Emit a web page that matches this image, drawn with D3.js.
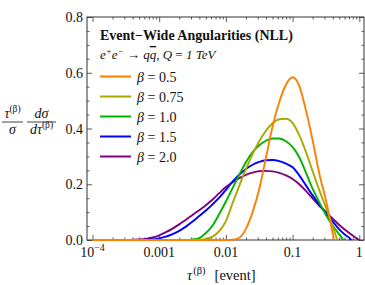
<!DOCTYPE html>
<html>
<head>
<meta charset="utf-8">
<script src="https://cdn.jsdelivr.net/npm/d3@7"></script>
<style>
  body { margin: 0; background: #fff; }
  text { font-family: "Liberation Serif", "DejaVu Serif", serif; fill: #111; }
</style>
</head>
<body>
<div id="vis"></div>
<script>
const W = 365, H = 285;
const frame = { left: 87, right: 364, top: 17, bottom: 240 };

const betas = ["0.5", "0.75", "1.0", "1.5", "2.0"];
const colors = ["#ff7f00", "#a8a800", "#00b400", "#0000ff", "#800080"];

// log10(tau) sample points and the distribution
const logTau05 = [-4, -2.0, -1.9, -1.8, -1.7, -1.6, -1.5, -1.4, -1.3, -1.2, -1.1, -1.0, -0.9, -0.8, -0.7, -0.6, -0.5, -0.45, -0.4, -0.38];
const vals05   = [0, 0, 0.001, 0.008, 0.04, 0.10, 0.183, 0.295, 0.408, 0.495, 0.557, 0.584, 0.553, 0.465, 0.358, 0.238, 0.142, 0.086, 0.025, 0];

const logTau075 = [-4, -2.5, -2.4, -2.3, -2.2, -2.1, -2.0, -1.9, -1.8, -1.7, -1.6, -1.5, -1.4, -1.3, -1.2, -1.1, -1.0, -0.9, -0.8, -0.7, -0.6, -0.5, -0.4, -0.34, -0.33];
const vals075   = [0, 0, 0.001, 0.004, 0.012, 0.032, 0.068, 0.132, 0.194, 0.254, 0.308, 0.354, 0.392, 0.419, 0.433, 0.435, 0.42, 0.376, 0.316, 0.247, 0.179, 0.117, 0.05, 0.007, 0];

const logTau10 = [-4, -2.6, -2.5, -2.4, -2.3, -2.2, -2.1, -2.0, -1.9, -1.8, -1.7, -1.6, -1.5, -1.4, -1.3, -1.2, -1.1, -1.0, -0.9, -0.8, -0.7, -0.6, -0.5, -0.4, -0.3, -0.25, -0.24];
const vals10   = [0, 0, 0.002, 0.007, 0.025, 0.052, 0.093, 0.138, 0.186, 0.234, 0.279, 0.315, 0.34, 0.356, 0.364, 0.364, 0.354, 0.333, 0.297, 0.242, 0.184, 0.135, 0.09, 0.052, 0.02, 0.004, 0];

const logTau15 = [-4, -3.3, -3.2, -3.1, -3.0, -2.9, -2.8, -2.7, -2.6, -2.5, -2.4, -2.3, -2.2, -2.1, -2.0, -1.9, -1.8, -1.7, -1.6, -1.5, -1.4, -1.3, -1.2, -1.1, -1.0, -0.9, -0.8, -0.7, -0.6, -0.5, -0.4, -0.3, -0.2, -0.14, -0.12];
const vals15   = [0, 0, 0.001, 0.002, 0.006, 0.012, 0.021, 0.033, 0.048, 0.066, 0.086, 0.106, 0.128, 0.152, 0.18, 0.209, 0.234, 0.255, 0.27, 0.28, 0.286, 0.287, 0.283, 0.274, 0.261, 0.232, 0.196, 0.16, 0.127, 0.097, 0.067, 0.038, 0.016, 0.006, 0];

const logTau20 = [-4, -3.5, -3.4, -3.3, -3.2, -3.1, -3.0, -2.9, -2.8, -2.7, -2.6, -2.5, -2.4, -2.3, -2.2, -2.1, -2.0, -1.9, -1.8, -1.7, -1.6, -1.5, -1.4, -1.3, -1.2, -1.1, -1.0, -0.9, -0.8, -0.7, -0.6, -0.5, -0.4, -0.3, -0.2, -0.1, -0.04, 0];
const vals20   = [0, 0, 0.001, 0.002, 0.004, 0.009, 0.017, 0.028, 0.041, 0.056, 0.073, 0.09, 0.107, 0.125, 0.145, 0.168, 0.19, 0.207, 0.222, 0.234, 0.242, 0.247, 0.248, 0.246, 0.241, 0.232, 0.219, 0.2, 0.176, 0.149, 0.123, 0.1, 0.077, 0.054, 0.034, 0.016, 0.006, 0];

const series = [
  [logTau05, vals05], [logTau075, vals075], [logTau10, vals10], [logTau15, vals15], [logTau20, vals20]
];

const xMajor = [1e-4, 1e-3, 1e-2, 1e-1, 1];
const xLabels = ["10|-4", "0.001", "0.01", "0.1", "1"];
const yMajor = [0, 0.2, 0.4, 0.6, 0.8];
const yLabels = ["0.0", "0.2", "0.4", "0.6", "0.8"];

const svg = d3.select("#vis").append("svg")
    .attr("width", W)
    .attr("height", H);

const x = d3.scaleLog().domain([1e-4, 1]).range([92.5, 359.3]);
const y = d3.scaleLinear().domain([0, 0.8]).range([frame.bottom, frame.top]);

// minor ticks
const xMinor = [];
[1e-4, 1e-3, 1e-2, 1e-1].forEach(d => { for (let k = 2; k <= 9; k++) xMinor.push(d * k); });
const yMinor = d3.range(0, 0.81, 0.05).filter(v => Math.abs(v * 5 - Math.round(v * 5)) > 1e-6);

const axisG = svg.append("g").attr("class", "axes");

function tickAxis(axisFn, scale, vals, size, pos) {
  const g = axisG.append("g")
      .attr("transform", pos)
      .call(axisFn(scale).tickValues(vals).tickSize(size).tickFormat(""));
  g.select(".domain").remove();
  g.selectAll(".tick line").attr("stroke", "#333").attr("stroke-width", 0.8);
  return g;
}

// bottom / top (inward)
tickAxis(d3.axisBottom, x, xMajor, -5, `translate(0,${frame.bottom})`);
tickAxis(d3.axisBottom, x, xMinor, -2.5, `translate(0,${frame.bottom})`);
tickAxis(d3.axisTop, x, xMajor, -5, `translate(0,${frame.top})`);
tickAxis(d3.axisTop, x, xMinor, -2.5, `translate(0,${frame.top})`);
// left / right
tickAxis(d3.axisLeft, y, yMajor, -5, `translate(${frame.left},0)`);
tickAxis(d3.axisLeft, y, yMinor, -2.5, `translate(${frame.left},0)`);
tickAxis(d3.axisRight, y, yMajor, -5, `translate(${frame.right},0)`);
tickAxis(d3.axisRight, y, yMinor, -2.5, `translate(${frame.right},0)`);

// frame
svg.append("rect")
    .attr("x", frame.left)
    .attr("y", frame.top)
    .attr("width", frame.right - frame.left)
    .attr("height", frame.bottom - frame.top)
    .attr("fill", "none")
    .attr("stroke", "#333")
    .attr("stroke-width", 1);

// curves
const line = d3.line()
    .x(d => x(Math.pow(10, d[0])))
    .y(d => y(d[1]))
    .curve(d3.curveMonotoneX);

const curveG = svg.append("g");
series.slice().reverse().forEach((s, i) => {
  const idx = series.length - 1 - i;
  const pts = s[0].map((t, j) => [t, s[1][j]]);
  curveG.append("path")
      .datum(pts)
      .attr("d", line)
      .attr("fill", "none")
      .attr("stroke", colors[idx])
      .attr("stroke-width", 1.9);
});

// y tick labels
svg.append("g").selectAll("text")
    .data(yMajor)
    .enter().append("text")
    .attr("x", frame.left - 4)
    .attr("y", d => y(d) + 5)
    .attr("text-anchor", "end")
    .style("font-size", "14px")
    .text((d, i) => yLabels[i]);

// x tick labels
const xl = svg.append("g").selectAll("text")
    .data(xMajor)
    .enter().append("text")
    .attr("x", d => x(d))
    .attr("y", 257)
    .attr("text-anchor", "middle")
    .style("font-size", "14px");
xl.each(function(d, i) {
  const t = d3.select(this);
  const parts = xLabels[i].split("|");
  t.append("tspan").text(parts[0]);
  if (parts[1]) {
    t.append("tspan").attr("dy", -6).style("font-size", "10px").text("\u2212" + parts[1].slice(1));
  }
});

// x axis title
const xt = svg.append("text")
    .attr("x", 187)
    .attr("y", 280)
    .style("font-size", "14.5px");
xt.append("tspan").style("font-style", "italic").text("\u03c4");
xt.append("tspan").attr("dy", -6).attr("dx", 1).style("font-size", "10.5px").text("(\u03b2)");
xt.append("tspan").attr("dy", 6).attr("dx", 9).text("[event]");

// y axis title: two fractions
const yt = svg.append("g");
function frac(cx, x0, x1, numParts, denParts) {
  yt.append("line").attr("x1", x0).attr("x2", x1).attr("y1", 122).attr("y2", 122)
      .attr("stroke", "#111").attr("stroke-width", 0.8);
  [[numParts, 118], [denParts, 134]].forEach(([parts, by]) => {
    const t = yt.append("text").attr("x", cx).attr("y", by).attr("text-anchor", "middle")
        .style("font-size", "14px");
    parts.forEach(p => {
      const s = t.append("tspan").text(p.t);
      if (p.i) s.style("font-style", "italic");
      if (p.sup) s.attr("dy", -6).style("font-size", "9.5px");
    });
  });
}
frac(12.5, 2, 23, [{ t: "\u03c4", i: true }, { t: "(\u03b2)", sup: true }], [{ t: "\u03c3", i: true }]);
frac(41.5, 27, 56, [{ t: "d\u03c3", i: true }], [{ t: "d\u03c4", i: true }, { t: "(\u03b2)", sup: true }]);

// legend
svg.append("text")
    .attr("x", 100)
    .attr("y", 40)
    .style("font-size", "14px")
    .style("font-weight", "bold")
    .text("Event\u2212Wide Angularities (NLL)");

const sub = svg.append("text")
    .attr("x", 100)
    .attr("y", 59)
    .style("font-size", "13px")
    .style("font-style", "italic");
sub.append("tspan").text("e");
sub.append("tspan").attr("dy", -5).style("font-size", "9px").text("+");
sub.append("tspan").attr("dy", 5).text("e");
sub.append("tspan").attr("dy", -5).style("font-size", "9px").text("\u2212");
sub.append("tspan").attr("dy", 5).style("font-style", "normal").text(" \u2192 ");
sub.append("tspan").text("q");
sub.append("tspan").style("text-decoration", "overline").text("q");
sub.append("tspan").style("font-style", "normal").text(", ");
sub.append("tspan").text("Q");
sub.append("tspan").style("font-style", "normal").text(" = ");
sub.append("tspan").text("1 TeV");

const leg = svg.append("g").selectAll("g")
    .data(betas)
    .enter().append("g")
    .attr("transform", (d, i) => `translate(100,${76.5 + i * 20})`);
leg.append("line")
    .attr("x1", 0).attr("x2", 31)
    .attr("stroke", (d, i) => colors[i])
    .attr("stroke-width", 2);
const lt = leg.append("text")
    .attr("x", 37)
    .attr("y", 5)
    .style("font-size", "14px");
lt.append("tspan").style("font-style", "italic").text("\u03b2");
lt.append("tspan").text(d => " = " + d);
</script>
</body>
</html>
